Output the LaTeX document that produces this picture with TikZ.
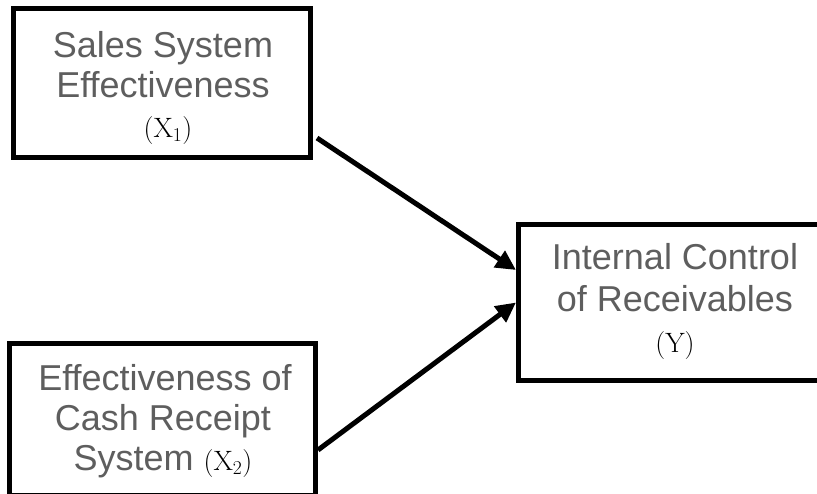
\documentclass[tikz,border=0pt]{standalone}
\usepackage{fontspec}
\setmainfont{Latin Modern Roman}
\newfontfamily\arialish{Liberation Sans}
\usetikzlibrary{arrows.meta,calc}
\definecolor{txtgray}{HTML}{5E5E5E}
\tikzset{
  boxnode/.style={draw=black, line width=5pt, rectangle, inner sep=0pt},
  sanslbl/.style={anchor=base, inner sep=0pt, text=txtgray, font=\arialish\fontsize{36}{40}\selectfont},
  varlbl/.style={anchor=base, inner sep=0pt, text=black, font=\fontsize{28}{30}\selectfont},
  conn/.style={line width=5pt, -{Triangle[length=20pt,width=19pt]}}
}
\begin{document}
\begin{tikzpicture}[x=1pt,y=-1pt]
\useasboundingbox (0,0) rectangle (817,493);
\begin{scope}
\clip (0,0) rectangle (817,493);
% boxes
\node[boxnode, minimum width=297pt, minimum height=149pt] (b1) at (162,83) {};
\node[boxnode, minimum width=306.5pt, minimum height=151.5pt] (b2) at (162.25,419.25) {};
\node[boxnode, minimum width=303.5pt, minimum height=156pt] (b3) at (670.25,302.5) {};
% texts box 1
\node[sanslbl] (t11) at (163,57) {Sales System};
\node[sanslbl] (t12) at (163,97) {Effectiveness};
\node[varlbl] (t13) at (168,137) {(X\textsubscript{1})};
% texts box 2
\node[sanslbl] (t21) at (165,390) {Effectiveness of};
\node[sanslbl] (t22) at (163,430) {Cash Receipt};
\node[sanslbl] (t23) at (163,470) {System {\rmfamily\color{black}\fontsize{28}{30}\selectfont (X\textsubscript{2})}};
% texts box 3
\node[sanslbl] (t31) at (675,269) {Internal Control};
\node[sanslbl] (t32) at (675,311) {of Receivables};
\node[varlbl] (t33) at (675,352) {(Y)};
% connectors
\coordinate (s1) at ($(b1.south east)+(4,-22)$);
\coordinate (s2) at ($(b2.north east)+(0,109)$);
\coordinate (e1) at ($(b3.west)+(0,-32.5)$);
\coordinate (e2) at (b3.west);
\draw[conn] (s1) -- (e1);
\draw[conn] (s2) -- (e2);
\end{scope}
\end{tikzpicture}
\end{document}
